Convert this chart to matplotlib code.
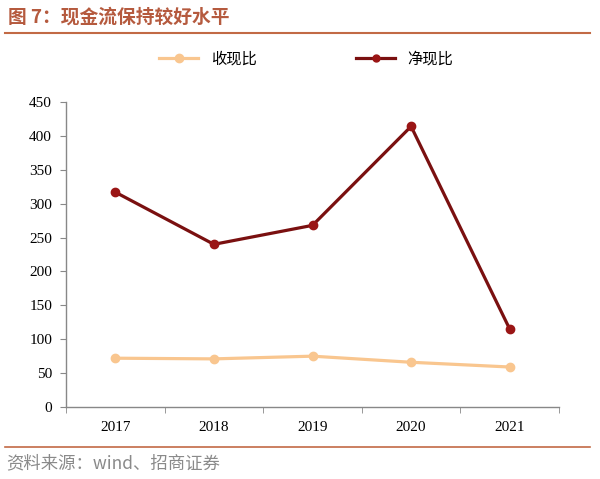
import matplotlib
matplotlib.use("Agg")
import matplotlib.pyplot as plt
import numpy as np
from matplotlib.lines import Line2D

plt.rcParams['font.family'] = ['Liberation Serif', 'Noto Sans CJK SC']

years = ['2017', '2018', '2019', '2020', '2021']
shouxian = [72, 71, 75, 66, 59]      # 收现比
jingxian = [317, 240, 268, 414, 115]  # 净现比
series_names = ['收现比', '净现比']
yticks = [0, 50, 100, 150, 200, 250, 300, 350, 400, 450]

fig = plt.figure(figsize=(6.0, 4.79), dpi=100)
ax = fig.add_axes([66/600, 1-407/479, (559-66)/600, (407-102)/479])

x = np.arange(len(years))
light = '#F9C68F'
dark = '#7A1010'
ax.plot(x, shouxian, color=light, lw=2.3, marker='o', ms=6, mfc=light, mec=light, solid_capstyle='round')
ax.plot(x, jingxian, color=dark, lw=2.3, marker='o', ms=6, mfc='#9A1515', mec='#9A1515')

ax.set_xlim(-0.5, 4.5)
ax.set_ylim(0, 450)
ax.set_yticks(yticks)
ax.set_yticklabels([str(v) for v in yticks], fontsize=11)
ax.set_xticks(x)
ax.set_xticklabels(years, fontsize=11)
ax.tick_params(axis='x', length=0, pad=10)
ax.set_xticks(np.arange(-0.5, 5, 1), minor=True)
ax.tick_params(axis='x', which='minor', length=4, direction='out', color='#888888')
ax.tick_params(axis='y', length=4, direction='out', color='#888888', pad=6)
for s in ['top', 'right']:
    ax.spines[s].set_visible(False)
for s in ['left', 'bottom']:
    ax.spines[s].set_color('#888888')
    ax.spines[s].set_linewidth(1.0)

# legend
h1 = Line2D([], [], color=light, lw=2.3, marker='o', ms=6, mfc=light, mec=light)
h2 = Line2D([], [], color=dark, lw=2.3, marker='o', ms=5, mfc='#9A1515', mec='#9A1515')
fig.legend([h1, h2], series_names, loc='center', bbox_to_anchor=(0.51, 1-59/479),
           ncol=2, frameon=False, columnspacing=6.5, handlelength=2.6,
           prop={'family': 'Noto Sans CJK SC', 'size': 11})

# title
fig.text(8/600, 1-17/479, '图 7：现金流保持较好水平', fontsize=13.5, fontweight='bold',
         color='#B55A3E', family=['Noto Sans CJK SC'], va='center', ha='left')
fig.add_artist(Line2D([5/600, 590/600], [1-33/479, 1-33/479], color='#C26A45', lw=1.5))
fig.add_artist(Line2D([5/600, 590/600], [1-447/479, 1-447/479], color='#C26A45', lw=1.2))
fig.text(6/600, 1-463/479, '资料来源：wind、招商证券', fontsize=12.5, color='#8A8A8A',
         family=['Noto Sans CJK SC'], va='center', ha='left')

fig.savefig('out.png', dpi=100)
